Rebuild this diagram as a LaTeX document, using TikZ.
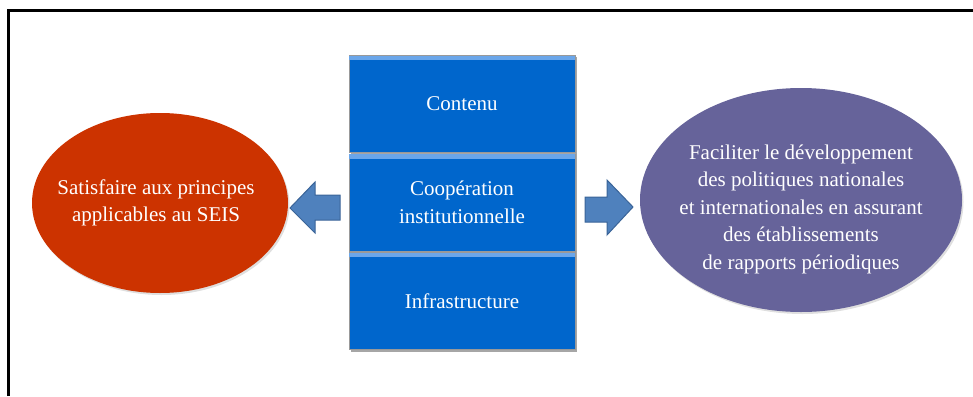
\documentclass[tikz,border=0pt]{standalone}
\usepackage{fontspec}
\setmainfont{Liberation Serif}
\usetikzlibrary{shadows}
\definecolor{cellblue}{HTML}{0066CC}
\definecolor{cellrim}{HTML}{6AA6EA}
\definecolor{brick}{HTML}{CC3300}
\definecolor{lavender}{HTML}{66639A}
\definecolor{arrowblue}{HTML}{4F81BD}
\definecolor{arrowrim}{HTML}{3A6498}
\tikzset{
  labeltext/.style={text=white, align=center, font=\fontsize{21}{27.5}\selectfont},
  cell/.style={labeltext, draw=black!40, fill=cellblue, minimum width=226pt,
    minimum height=97pt, inner sep=0pt},
  goalshape/.style={drop shadow={opacity=0.25, shadow xshift=1.5pt, shadow yshift=-2pt}},
  blockarrow/.style={fill=arrowblue, draw=arrowrim, line width=1pt, line join=miter}
}
\begin{document}
\begin{tikzpicture}[x=1pt,y=-1pt]
    \useasboundingbox (0,0) rectangle (973,396);
    \draw[line width=2.2pt] (8.5,396) |- (973,10.5);

    % central column
    \fill[black!35] (351,57) rectangle (577,352);
    \node[cell] (a) at (462,104) {Contenu};
    \node[cell] (b) at (462,202.5) {Coopération\\institutionnelle};
    \node[cell] (c) at (462,301) {Infrastructure};
    \foreach \n in {a,b,c}
      \fill[cellrim] ([xshift=0.5pt,yshift=-0.5pt]\n.north west) rectangle ([xshift=-0.5pt,yshift=-5pt]\n.north east);

    % the two aims
    \path[goalshape, fill=brick] (160,203) ellipse [x radius=128pt, y radius=90pt];
    \node[labeltext] (d) at (156,203) {Satisfaire aux principes\\applicables au SEIS};
    \path[goalshape, fill=lavender] (801,200) ellipse [x radius=161pt, y radius=112pt];
    \node[labeltext] (e) at (801,209)
      {Faciliter le développement\\des politiques nationales\\et internationales en assurant\\des établissements\\de rapports périodiques};

    % block arrows
    \draw[blockarrow] (290,208) -- (315,182) -- (315,195) -- (340,195)
      -- (340,220) -- (315,220) -- (315,233) -- cycle;
    \draw[blockarrow] (633,207) -- (607,180) -- (607,197) -- (585,197)
      -- (585,222) -- (607,222) -- (607,235) -- cycle;
\end{tikzpicture}
\end{document}
